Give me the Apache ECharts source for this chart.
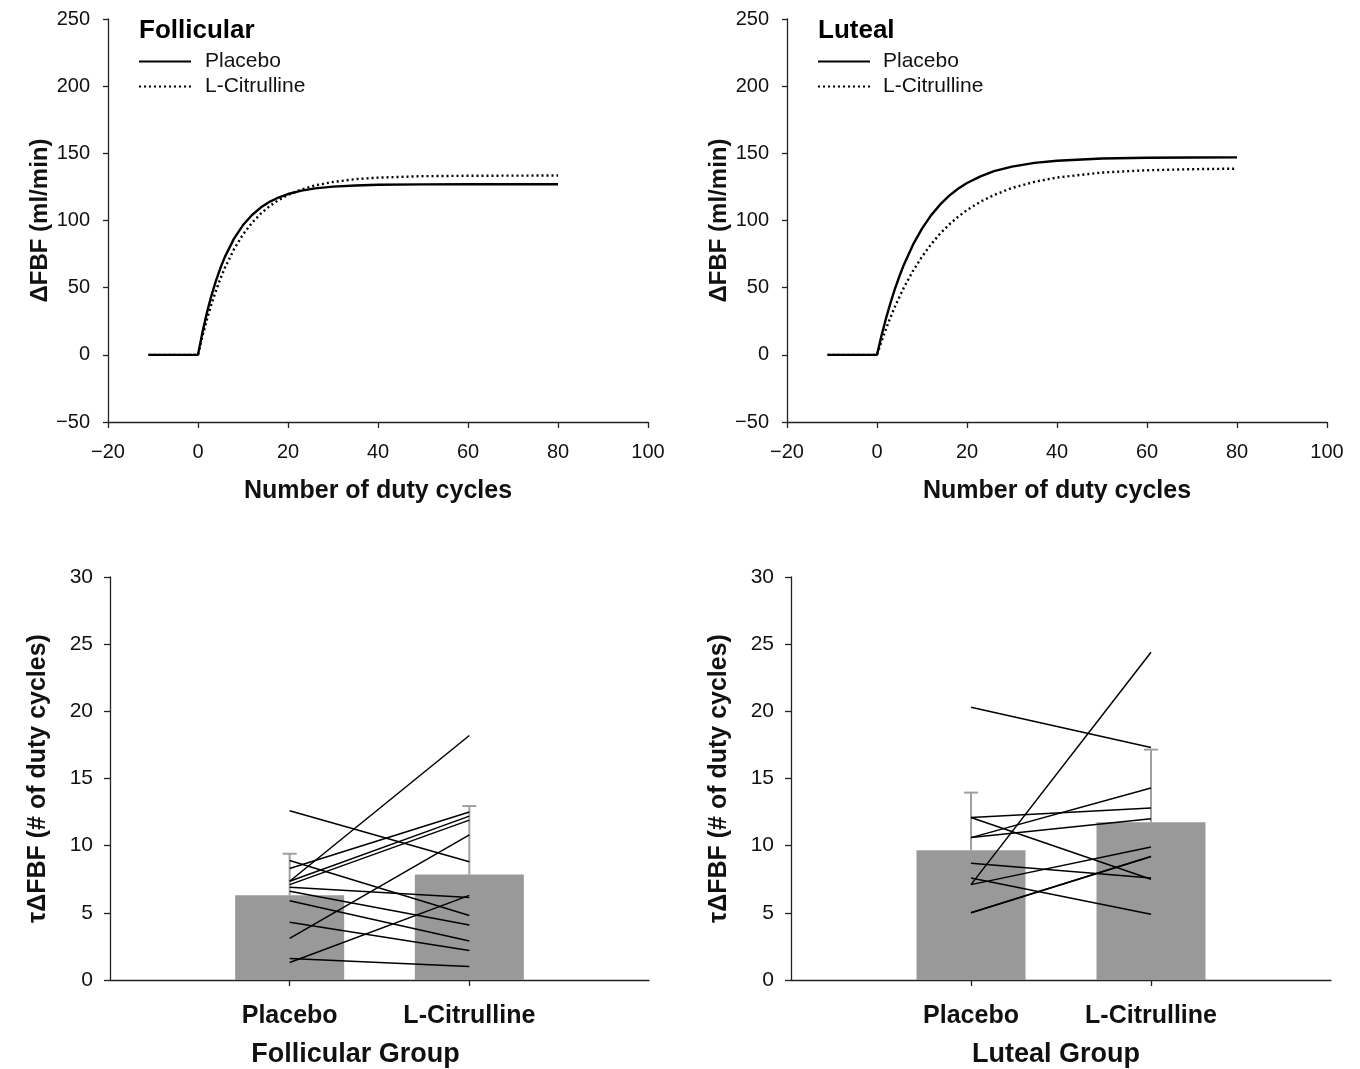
<!DOCTYPE html>
<html>
<head>
<meta charset="utf-8">
<script src="https://cdn.jsdelivr.net/npm/echarts@6/dist/echarts.min.js"></script>
<style>html,body{margin:0;padding:0;background:#fff}#c{width:1360px;height:1069px}</style>
</head>
<body>
<div id="c"></div>
<script>
// ---- Top panels: ΔFBF curves ----
const curveX = [-11,0,1,2,3,4,5,6,8,10,12,14,16,18,20,23,26,30,35,40,50,60,70,80];
const follPlaceboCurve = [0,0,16.9,31.6,44.3,55.3,64.8,73.1,86.5,96.6,104.1,109.8,114.1,117.3,119.7,122.2,123.9,125.2,126.1,126.6,126.9,127,127,127];
const follCitCurve     = [0,0,14.0,26.6,37.8,47.9,56.9,65.0,78.6,89.6,98.3,105.3,110.9,115.4,119.0,123.1,126.1,128.7,130.8,131.9,133.0,133.3,133.4,133.5];
const lutPlaceboCurve  = [0,0,14.3,27.1,38.7,49.3,58.7,67.3,82.0,94.0,103.8,111.8,118.3,123.6,127.9,132.9,136.7,140.1,142.9,144.5,146.1,146.7,146.9,147];
const lutCitCurve      = [0,0,10.0,19.3,27.9,35.9,43.3,50.2,62.5,73.1,82.2,90.1,96.9,102.7,107.8,114.0,119.0,124.2,128.8,132.0,135.7,137.4,138.2,138.6];

// ---- Bottom panels: τΔFBF per subject ----
const categories = ['Placebo', 'L-Citrulline'];
const follPlaceboTau = [12.6, 7.35, 8.3, 7.35, 7.1, 3.1, 1.3, 1.6, 4.3, 8.9, 6.9, 6.6, 5.9];
const follCitTau     = [8.8, 18.2, 12.5, 12.2, 11.9, 10.8, 6.3, 1.0, 2.2, 4.8, 6.15, 4.1, 2.9];
const lutPlaceboTau  = [20.3, 7.1, 12.1, 12.1, 10.6, 10.6, 8.7, 7.6, 7.1, 5.0, 5.0];
const lutCitTau      = [17.3, 24.4, 12.8, 7.5, 14.3, 12.0, 7.6, 4.9, 9.9, 9.2, 9.2];
const follMean = [6.3, 7.85];
const follSD   = [3.1, 5.1];
const lutMean  = [9.65, 11.75];
const lutSD    = [4.3, 5.4];

const FONT = 'Liberation Sans, Arial, sans-serif';
const AX = '#222';
const minus = v => String(v).replace('-', '\u2212');

function pts(xs, ys) { return xs.map((x, i) => [x, ys[i]]); }

const grids = [
  {left:108, right:712, top:19, bottom:647},
  {left:787, right:33,  top:19, bottom:647},
  {left:110, right:711, top:577, bottom:87},
  {left:791, right:29,  top:577, bottom:87}
];

const xAxes = [], yAxes = [], series = [];
[0,1].forEach(g => {
  xAxes.push({
    gridIndex:g, type:'value', min:-20, max:100, interval:20,
    name:'Number of duty cycles', nameLocation:'middle', nameGap:57,
    nameTextStyle:{fontFamily:FONT, fontSize:25, fontWeight:'bold', color:'#111'},
    axisLine:{onZero:false, lineStyle:{color:AX, width:1.3}},
    axisTick:{inside:false, length:6, lineStyle:{color:AX, width:1.3}},
    axisLabel:{fontFamily:FONT, fontSize:20, color:'#111', margin:20, formatter:minus},
    splitLine:{show:false}
  });
  yAxes.push({
    gridIndex:g, type:'value', min:-50, max:250, interval:50,
    name:'\u0394FBF (ml/min)', nameLocation:'middle', nameGap:55, nameRotate:90,
    nameTextStyle:{fontFamily:FONT, fontSize:24, fontWeight:'bold', color:'#111'},
    axisLine:{show:true, onZero:false, lineStyle:{color:AX, width:1.3}},
    axisTick:{show:true, inside:false, length:5, lineStyle:{color:AX, width:1.3}},
    axisLabel:{fontFamily:FONT, fontSize:20, color:'#111', margin:18, formatter:minus},
    splitLine:{show:false}
  });
});
[2,3].forEach((g, k) => {
  xAxes.push({
    gridIndex:g, type:'value', min:0, max:3, interval:1,
    name: k === 0 ? 'Follicular Group' : 'Luteal Group', nameLocation:'middle', nameGap:61,
    nameTextStyle:{fontFamily:FONT, fontSize:27, fontWeight:'bold', color:'#111',
      padding: k === 0 ? [0, 48, 0, 0] : [0, 10, 0, 0]},
    axisLine:{onZero:false, lineStyle:{color:AX, width:1.3}},
    axisTick:{customValues:[1,2], length:6, lineStyle:{color:AX, width:1.3}},
    axisLabel:{customValues:[1,2], fontFamily:FONT, fontSize:25, fontWeight:'bold', color:'#111', margin:24,
      formatter: v => categories[Math.round(v) - 1] || ''},
    splitLine:{show:false}
  });
  yAxes.push({
    gridIndex:g, type:'value', min:0, max:30, interval:5,
    name:'\u03C4\u0394FBF (# of duty cycles)', nameLocation:'middle', nameGap:59, nameRotate:90,
    nameTextStyle:{fontFamily:FONT, fontSize:25, fontWeight:'bold', color:'#111'},
    axisLine:{show:true, onZero:false, lineStyle:{color:AX, width:1.3}},
    axisTick:{show:true, length:6, lineStyle:{color:AX, width:1.3}},
    axisLabel:{fontFamily:FONT, fontSize:21, color:'#111', margin:17},
    splitLine:{show:false}
  });
});

// curves
const curveSets = [[follPlaceboCurve, follCitCurve], [lutPlaceboCurve, lutCitCurve]];
curveSets.forEach((pair, g) => {
  series.push({
    name:'Placebo', type:'line', xAxisIndex:g, yAxisIndex:g, data:pts(curveX, pair[0]),
    symbol:'none', lineStyle:{color:'#000', width:2.4, type:'solid'}, itemStyle:{color:'#000'}, z:3
  });
  series.push({
    name:'L-Citrulline', type:'line', xAxisIndex:g, yAxisIndex:g, data:pts(curveX, pair[1]),
    symbol:'none', lineStyle:{color:'#000', width:2.4, type:[2,3]}, itemStyle:{color:'#000'}, z:3
  });
});

// bars, error bars, subject lines
const bottomSets = [
  {means:follMean, sds:follSD, pl:follPlaceboTau, ct:follCitTau},
  {means:lutMean, sds:lutSD, pl:lutPlaceboTau, ct:lutCitTau}
];
bottomSets.forEach((s, k) => {
  const ai = k + 2;
  series.push({
    type:'bar', xAxisIndex:ai, yAxisIndex:ai, barWidth:109,
    data:s.means.map((m, i) => [i + 1, m]),
    itemStyle:{color:'#999999'}, z:1, silent:true
  });
  series.push({
    type:'custom', xAxisIndex:ai, yAxisIndex:ai, z:2, silent:true,
    data:s.means.map((m, i) => [i + 1, m, m + s.sds[i]]),
    renderItem:(params, api) => {
      const x = api.value(0);
      const p0 = api.coord([x, api.value(1)]);
      const p1 = api.coord([x, api.value(2)]);
      const st = {stroke:'#a0a0a0', lineWidth:2};
      return {type:'group', children:[
        {type:'line', shape:{x1:p0[0], y1:p0[1], x2:p1[0], y2:p1[1]}, style:st},
        {type:'line', shape:{x1:p1[0]-7, y1:p1[1], x2:p1[0]+7, y2:p1[1]}, style:st}
      ]};
    }
  });
  s.pl.forEach((v, i) => {
    series.push({
      type:'line', xAxisIndex:ai, yAxisIndex:ai, data:[[1, v], [2, s.ct[i]]],
      symbol:'none', lineStyle:{color:'#000', width:1.5}, z:4, silent:true
    });
  });
});

const legendCommon = {
  orient:'vertical', itemWidth:52, itemHeight:16, itemGap:4, top:46,
  data:['Placebo','L-Citrulline'], selectedMode:false,
  itemStyle:{opacity:0},
  lineStyle:{width:2}
};

const option = {
  animation:false,
  backgroundColor:'#fff',
  title:[
    {text:'Follicular', left:134, top:13, textStyle:{fontFamily:FONT, fontSize:26, fontWeight:'bold', color:'#000'}},
    {text:'Luteal', left:813, top:13, textStyle:{fontFamily:FONT, fontSize:26, fontWeight:'bold', color:'#000'}}
  ],
  legend:[
    Object.assign({}, legendCommon, {left:133,
      textStyle:{fontFamily:FONT, fontSize:21, color:'#111', padding:[0,0,0,9]}}),
    Object.assign({}, legendCommon, {left:812,
      textStyle:{fontFamily:FONT, fontSize:21, color:'#111', padding:[0,0,0,8]}})
  ],
  grid:grids,
  xAxis:xAxes,
  yAxis:yAxes,
  series:series
};

const chart = echarts.init(document.getElementById('c'), null, {renderer:'canvas'});
chart.setOption(option);
</script>
</body>
</html>
